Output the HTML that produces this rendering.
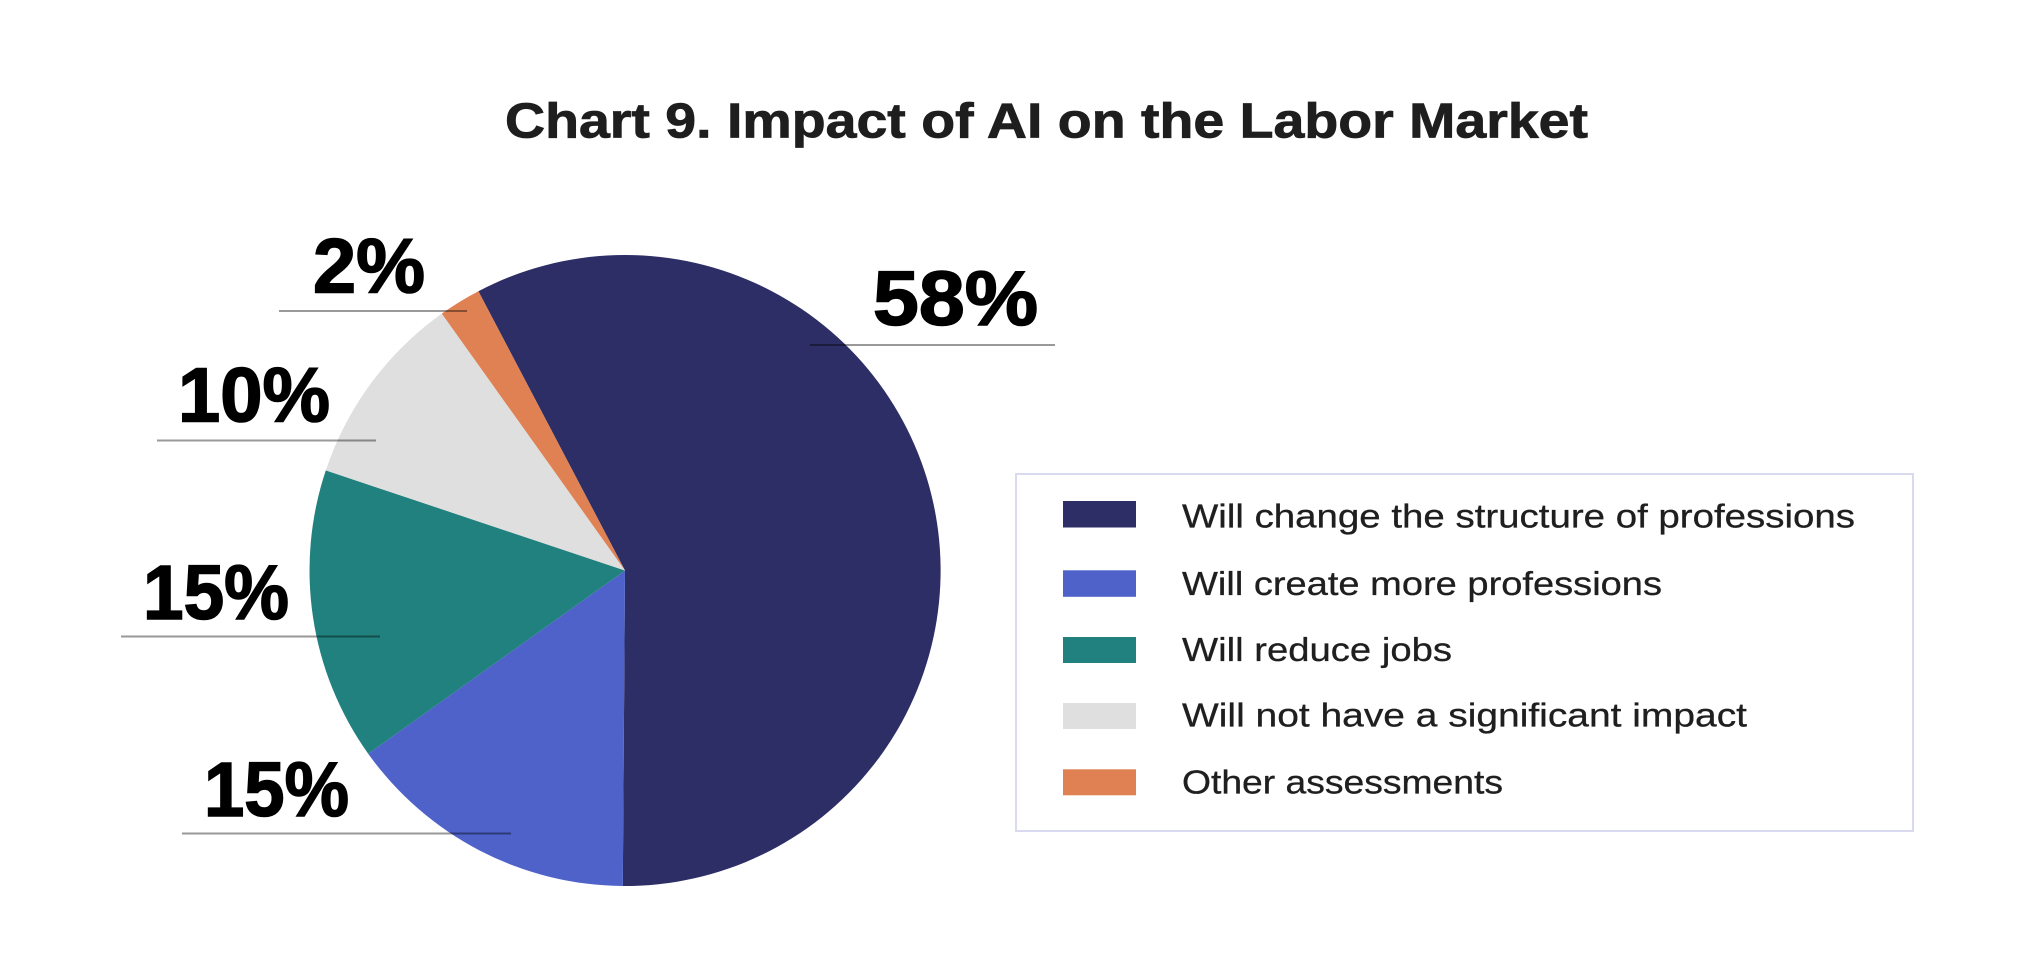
<!DOCTYPE html>
<html>
<head>
<meta charset="utf-8">
<style>
  html, body { margin: 0; padding: 0; background: #ffffff; }
  body { width: 2032px; height: 963px; overflow: hidden; }
  svg { display: block; }
</style>
</head>
<body>
<svg width="2032" height="963" viewBox="0 0 2032 963" xmlns="http://www.w3.org/2000/svg">
  <rect x="0" y="0" width="2032" height="963" fill="#ffffff"/>

  <!-- Title -->
  <text x="505" y="137.5" font-family="Liberation Sans, sans-serif" font-weight="bold" font-size="49" fill="#1e1e1e" stroke="#1e1e1e" stroke-width="0.8" textLength="1083" lengthAdjust="spacingAndGlyphs">Chart 9. Impact of AI on the Labor Market</text>

  <!-- Pie -->
  <path d="M625,570.5 L478.4,291.2 A315.5,315.5 0 1 1 622.8,886.0 Z" fill="#2d2e66"/>
  <path d="M625,570.5 L622.8,886.0 A315.5,315.5 0 0 1 368.2,753.7 Z" fill="#4e62c9"/>
  <path d="M625,570.5 L368.2,753.7 A315.5,315.5 0 0 1 325.8,470.4 Z" fill="#21817e"/>
  <path d="M625,570.5 L325.8,470.4 A315.5,315.5 0 0 1 441.8,313.6 Z" fill="#dfdfdf"/>
  <path d="M625,570.5 L441.8,313.6 A315.5,315.5 0 0 1 478.4,291.2 Z" fill="#df8152"/>

  <!-- Leader lines -->
  <g stroke="rgba(0,0,0,0.4)" stroke-width="2" fill="none">
    <line x1="279" y1="311" x2="467" y2="311"/>
    <line x1="157" y1="440.5" x2="376" y2="440.5"/>
    <line x1="121" y1="636.5" x2="380" y2="636.5"/>
    <line x1="182" y1="833.5" x2="511" y2="833.5"/>
    <line x1="810" y1="345" x2="1055" y2="345"/>
  </g>

  <!-- Percent labels -->
  <g font-family="Liberation Sans, sans-serif" font-weight="bold" font-size="77" fill="#000000" stroke="#000000" stroke-width="1.6">
    <text x="313" y="292.7" textLength="112" lengthAdjust="spacingAndGlyphs">2%</text>
    <text x="178" y="421.7" textLength="152" lengthAdjust="spacingAndGlyphs">10%</text>
    <text x="143" y="619" textLength="146" lengthAdjust="spacingAndGlyphs">15%</text>
    <text x="204" y="816" textLength="145" lengthAdjust="spacingAndGlyphs">15%</text>
    <text x="873" y="325" textLength="165" lengthAdjust="spacingAndGlyphs">58%</text>
  </g>

  <!-- Legend -->
  <rect x="1016" y="474" width="897" height="357" fill="#ffffff" stroke="#d9d9ef" stroke-width="2"/>
  <rect x="1063" y="501" width="73" height="26.5" fill="#2d2e66"/>
  <rect x="1063" y="570.3" width="73" height="26.5" fill="#4e62c9"/>
  <rect x="1063" y="637" width="73" height="26" fill="#21817e"/>
  <rect x="1063" y="703" width="73" height="26" fill="#dfdfdf"/>
  <rect x="1063" y="769.3" width="73" height="26" fill="#df8152"/>

  <g font-family="Liberation Sans, sans-serif" font-size="33" fill="#1f1f1f" stroke="#1f1f1f" stroke-width="0.3">
    <text x="1182" y="527.7" textLength="673" lengthAdjust="spacingAndGlyphs">Will change the structure of professions</text>
    <text x="1182" y="595" textLength="480" lengthAdjust="spacingAndGlyphs">Will create more professions</text>
    <text x="1182" y="661" textLength="270" lengthAdjust="spacingAndGlyphs">Will reduce jobs</text>
    <text x="1182" y="726.7" textLength="565" lengthAdjust="spacingAndGlyphs">Will not have a significant impact</text>
    <text x="1182" y="793.3" textLength="321" lengthAdjust="spacingAndGlyphs">Other assessments</text>
  </g>
</svg>
</body>
</html>
